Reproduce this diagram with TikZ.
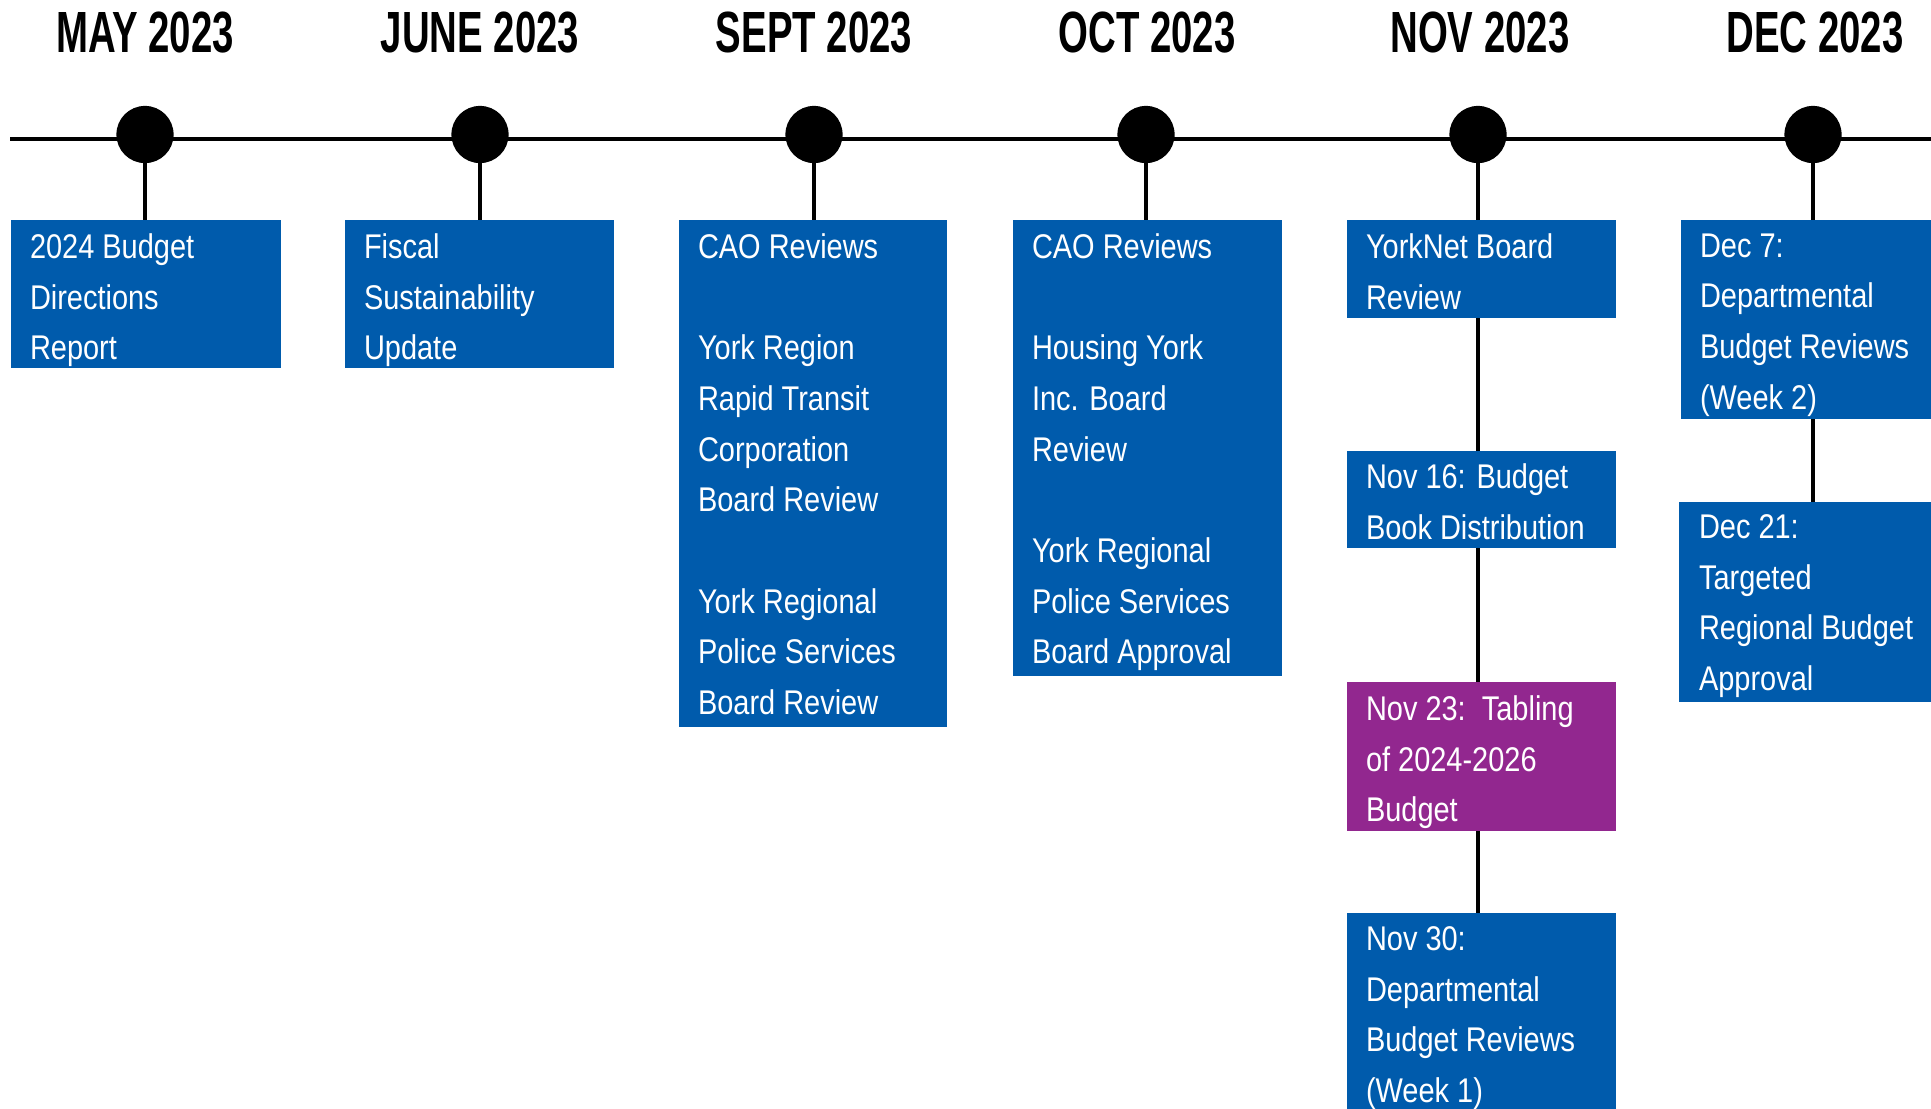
\documentclass[tikz,border=0pt]{standalone}
\usepackage{fontspec}
\setmainfont{Liberation Sans}
\newfontfamily\headfam[FakeStretch=0.66]{Liberation Sans}
\newfontfamily\boxfam[FakeStretch=0.845]{Liberation Sans}
\usetikzlibrary{fit}
\definecolor{yrblue}{HTML}{005BAC}
\definecolor{yrpurple}{HTML}{92278F}
\newcommand\headfnt{\headfam\bfseries\fontsize{43.6}{50}\selectfont}
\newcommand\boxfnt{\boxfam\fontsize{25.7}{38}\selectfont}
\begin{document}
\begin{tikzpicture}[x=0.75pt,y=-0.75pt,
  dot/.style={circle,fill=black,inner sep=0,minimum size=42.9pt},
  tline/.style={line width=3pt,black},
  conn/.style={line width=3pt,black},
  bbox/.style={fill=yrblue,inner sep=0,draw=none},
  pbox/.style={fill=yrpurple,inner sep=0,draw=none},
  txt/.style={anchor=north west,inner sep=0,text=white,align=left,font=\boxfnt,execute at begin node=\strut},
  head/.style={anchor=base,inner sep=0,font=\headfnt}]
\useasboundingbox (0,0) rectangle (1931,1108);
\clip (0,0) rectangle (1931,1108);
% headers
\node[head] (h1) at (145,52) {MAY 2023};
\node[head] (h2) at (480,52) {JUNE 2023};
\node[head] (h3) at (814,52) {SEPT 2023};
\node[head] (h4) at (1147,52) {OCT 2023};
\node[head] (h5) at (1480,52) {NOV 2023};
\node[head] (h6) at (1815,52) {DEC 2023};
% timeline
\coordinate (tl) at (10,139);
\coordinate (tr) at (1935,139);
\draw[tline] (tl) -- (tr);
% dots
\node[dot] (c1) at (145,134.5) {};
\node[dot] (c2) at (480,134.5) {};
\node[dot] (c3) at (814,134.5) {};
\node[dot] (c4) at (1146,134.5) {};
\node[dot] (c5) at (1478,134.5) {};
\node[dot] (c6) at (1813,134.5) {};
% boxes
\node[bbox,fit={(11,220)(281,368)}] (b1) {};
\node[bbox,fit={(345,220)(614,368)}] (b2) {};
\node[bbox,fit={(679,220)(947,727)}] (b3) {};
\node[bbox,fit={(1013,220)(1282,676)}] (b4) {};
\node[bbox,fit={(1347,220)(1616,318)}] (b5) {};
\node[bbox,fit={(1347,451)(1616,548)}] (b6) {};
\node[pbox,fit={(1347,682)(1616,831)}] (b7) {};
\node[bbox,fit={(1347,913)(1616,1120)}] (b8) {};
\node[bbox,fit={(1681,220)(1940,419)}] (b9) {};
\node[bbox,fit={(1679,502)(1940,702)}] (b10) {};
% texts
\node[txt] (t1) at ([shift={(19,13.5)}]b1.north west) {2024 Budget\\Directions\\Report};
\node[txt] (t2) at ([shift={(19,13.5)}]b2.north west) {Fiscal\\Sustainability\\Update};
\node[txt] (t3) at ([shift={(19,13.5)}]b3.north west) {CAO Reviews\\\strut\\York Region\\Rapid Transit\\Corporation\\Board Review\\\strut\\York Regional\\Police Services\\Board Review};
\node[txt] (t4) at ([shift={(19,13.5)}]b4.north west) {CAO Reviews\\\strut\\Housing York\\Inc. Board\\Review\\\strut\\York Regional\\Police Services\\Board Approval};
\node[txt] (t5) at ([shift={(19,13.5)}]b5.north west) {YorkNet Board\\Review};
\node[txt] (t6) at ([shift={(19,12.5)}]b6.north west) {Nov 16: Budget\\Book Distribution};
\node[txt] (t7) at ([shift={(19,13.5)}]b7.north west) {Nov 23:\ \ Tabling\\of 2024-2026\\Budget};
\node[txt] (t8) at ([shift={(19,13.5)}]b8.north west) {Nov 30:\\Departmental\\Budget Reviews\\(Week 1)};
\node[txt] (t9) at ([shift={(19,13.5)}]b9.north west) {Dec 7:\\Departmental\\Budget Reviews\\(Week 2)};
\node[txt] (t10) at ([shift={(20,12.5)}]b10.north west) {Dec 21:\\Targeted\\Regional Budget\\Approval};
% connectors
\draw[conn] (c1.south) -- (c1.south |- b1.north);
\draw[conn] (c2.south) -- (c2.south |- b2.north);
\draw[conn] (c3.south) -- (c3.south |- b3.north);
\draw[conn] (c4.south) -- (c4.south |- b4.north);
\draw[conn] (c5.south) -- (c5.south |- b5.north);
\draw[conn] (b5.south -| c5) -- (b6.north -| c5);
\draw[conn] (b6.south -| c5) -- (b7.north -| c5);
\draw[conn] (b7.south -| c5) -- (b8.north -| c5);
\draw[conn] (c6.south) -- (c6.south |- b9.north);
\draw[conn] (b9.south -| c6) -- (b10.north -| c6);
\end{tikzpicture}
\end{document}
